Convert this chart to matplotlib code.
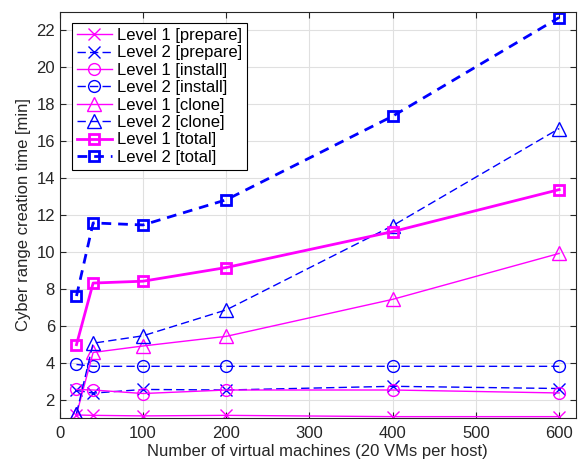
import matplotlib
matplotlib.use("Agg")
import matplotlib.pyplot as plt

plt.rcParams['font.family'] = ['Liberation Sans', 'DejaVu Sans']

vms = [20, 40, 100, 200, 400, 600]

l1_prepare = [1.17, 1.15, 1.12, 1.15, 1.08, 1.08]
l2_prepare = [2.5, 2.35, 2.55, 2.52, 2.72, 2.6]
l1_install = [2.55, 2.52, 2.33, 2.52, 2.52, 2.36]
l2_install = [3.9, 3.8, 3.8, 3.8, 3.8, 3.8]
l1_clone = [1.2, 4.55, 4.9, 5.42, 7.42, 9.9]
l2_clone = [1.25, 5.05, 5.45, 6.85, 11.4, 16.65]
l1_total = [4.97, 8.3, 8.4, 9.14, 11.08, 13.35]
l2_total = [7.6, 11.55, 11.44, 12.8, 17.32, 22.65]

mag = (1, 0, 1)
blu = (0, 0, 1)
dark = (0.15, 0.15, 0.15)

fig = plt.figure(figsize=(5.81, 4.61), dpi=100)
ax = fig.add_axes([0.103, 0.093, 0.888, 0.881])

ms = 8.5
ax.plot(vms, l1_prepare, '-', marker='x', color=mag, lw=1, ms=ms, mew=1, mfc='none', label="Level 1 [prepare]")
ax.plot(vms, l2_prepare, '--', marker='x', color=blu, lw=1, ms=ms, mew=1, mfc='none', dashes=(6, 3), label="Level 2 [prepare]")
ax.plot(vms, l1_install, '-', marker='o', color=mag, lw=1, ms=ms, mew=1, mfc='none', label="Level 1 [install]")
ax.plot(vms, l2_install, '--', marker='o', color=blu, lw=1, ms=ms, mew=1, mfc='none', dashes=(6, 3), label="Level 2 [install]")
ax.plot(vms, l1_clone, '-', marker='^', color=mag, lw=1, ms=ms + 1, mew=1, mfc='none', label="Level 1 [clone]")
ax.plot(vms, l2_clone, '--', marker='^', color=blu, lw=1, ms=ms + 1, mew=1, mfc='none', dashes=(6, 3), label="Level 2 [clone]")
ax.plot(vms, l1_total, '-', marker='s', color=mag, lw=2, ms=ms - 1, mew=2, mfc='none', label="Level 1 [total]")
ax.plot(vms, l2_total, '--', marker='s', color=blu, lw=2, ms=ms - 1, mew=2, mfc='none', dashes=(3.5, 2.5), label="Level 2 [total]")

ax.set_xlim(0, 620)
ax.set_ylim(1, 22.95)
ax.set_xticks(range(0, 601, 100))
ax.set_yticks(range(2, 23, 2))
ax.grid(True, color=(0.88, 0.88, 0.88), lw=0.8)
ax.set_axisbelow(True)
ax.tick_params(direction='in', top=True, right=True, labelsize=12, colors=dark, length=4)
ax.tick_params(axis='x', pad=6)
for s in ax.spines.values():
    s.set_color(dark)
    s.set_linewidth(0.8)

ax.set_xlabel("Number of virtual machines (20 VMs per host)", fontsize=12, color=dark, labelpad=2)
ax.set_ylabel("Cyber range creation time [min]", fontsize=12, color=dark, labelpad=4)

leg = ax.legend(loc='upper left', bbox_to_anchor=(0.023, 0.973), fontsize=12, fancybox=False,
                framealpha=1, edgecolor='black', handlelength=2.1, labelspacing=0.145,
                borderpad=0.3, handletextpad=0.3, borderaxespad=0)
leg.get_frame().set_linewidth(0.8)

fig.savefig("out.png", dpi=100)
